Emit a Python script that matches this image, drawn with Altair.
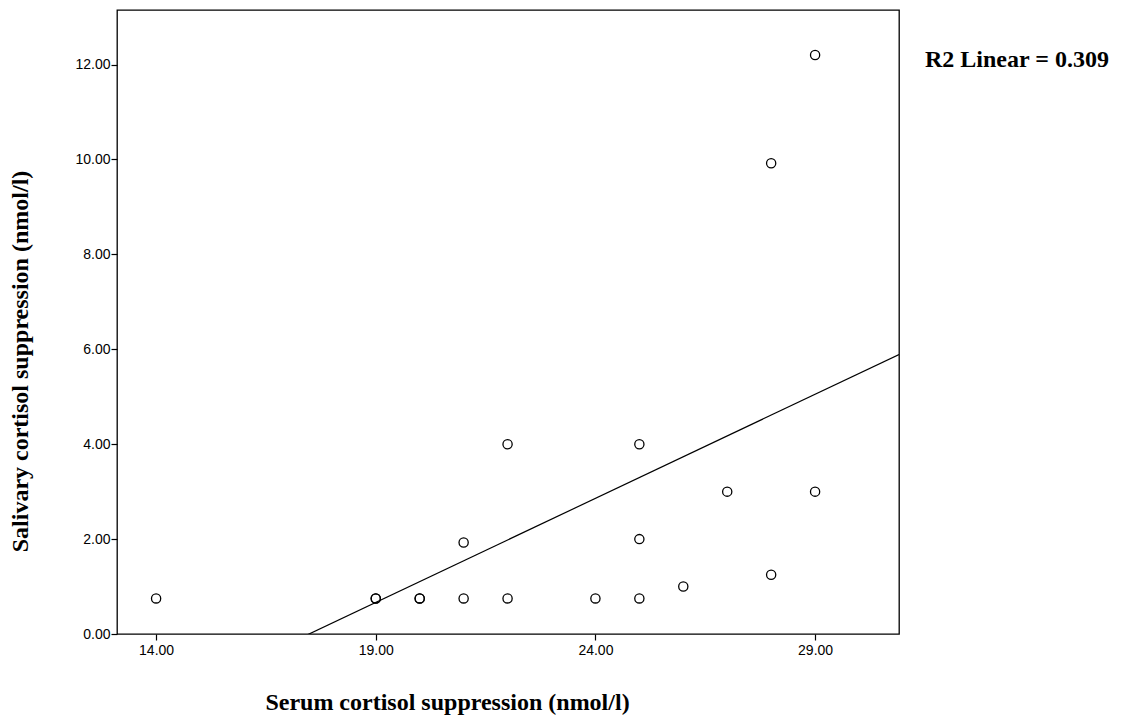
import altair as alt
import pandas as pd

serum = [14, 19, 19, 20, 20, 21, 21, 22, 22, 24, 25, 25, 25, 26, 27, 28, 28, 29, 29]
saliva = [0.75, 0.75, 0.75, 0.75, 0.75, 1.93, 0.75, 4.0, 0.75, 0.75, 4.0, 2.0, 0.75, 1.0, 3.0, 9.92, 1.25, 12.2, 3.0]
x_ticks = [14, 19, 24, 29]
y_ticks = [0, 2, 4, 6, 8, 10, 12]
x_domain = [13.11, 30.91]
y_domain = [0, 13.15]
r2_label = ["R2 Linear = 0.309"]

df = pd.DataFrame({"serum": serum, "saliva": saliva})

W, H = 782, 624

xs = alt.Scale(domain=x_domain, nice=False, zero=False)
ys = alt.Scale(domain=y_domain, nice=False, zero=False)

x_axis = alt.Axis(values=x_ticks, format=".2f", grid=False, domain=False,
                  tickSize=6, tickColor="black", tickWidth=1.2, labelColor="black",
                  labelFont="Liberation Sans", labelFontSize=14, labelPadding=3,
                  title="Serum cortisol suppression (nmol/l)",
                  titleFont="Liberation Serif", titleFontSize=24, titleFontWeight="bold",
                  titleColor="black", titleX=330, titleY=68, titleBaseline="middle",
                  titleAlign="center")
y_axis = alt.Axis(values=y_ticks, format=".2f", grid=False, domain=False,
                  tickSize=6, tickColor="black", tickWidth=1.2, labelColor="black",
                  labelFont="Liberation Sans", labelFontSize=14, labelPadding=1,
                  title="Salivary cortisol suppression (nmol/l)",
                  titleFont="Liberation Serif", titleFontSize=24, titleFontWeight="bold",
                  titleColor="black", titleX=-97, titleY=351, titleAlign="center",
                  titleBaseline="middle")

base = alt.Chart(df)

points = base.mark_point(shape="circle", filled=False, color="black",
                         size=85, strokeWidth=1.3, opacity=1).encode(
    x=alt.X("serum:Q", scale=xs, axis=x_axis),
    y=alt.Y("saliva:Q", scale=ys, axis=y_axis),
)

line = base.transform_regression(
    "serum", "saliva", method="linear", extent=x_domain
).mark_line(color="black", strokeWidth=1.2, clip=True).encode(
    x=alt.X("serum:Q", scale=xs),
    y=alt.Y("saliva:Q", scale=ys),
)

label = alt.Chart(pd.DataFrame({"t": r2_label})).mark_text(
    font="Liberation Serif", fontSize=24, fontWeight="bold", color="black",
    align="left", baseline="middle"
).encode(text="t:N", x=alt.value(W + 26), y=alt.value(50))

chart = alt.layer(line, points, label).properties(
    width=W, height=H,
    background="white",
    autosize=alt.AutoSizeParams(type="none"),
    padding={"left": 109, "top": 2, "right": 221, "bottom": 82},
).configure_view(stroke="black", strokeWidth=1.3)

chart.save("out.html", embed_options={"renderer": "svg", "actions": False})
